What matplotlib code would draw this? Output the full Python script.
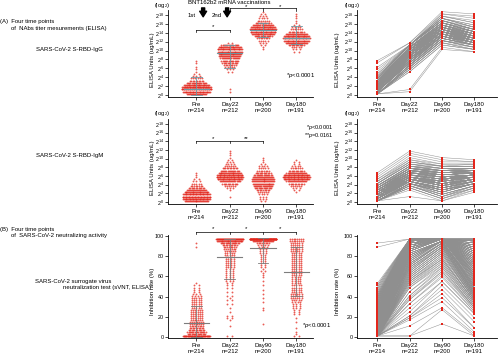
import numpy as np
import matplotlib
matplotlib.use('Agg')
import matplotlib.pyplot as plt

W, H = 500, 354

groups = ['Pre', 'Day22', 'Day90', 'Day180']
group_n = [214, 212, 200, 191]

# histogram counts (log2 bins of 0.5, centres 0.25 ... 18.75)
log_bins = np.arange(0.25, 19, 0.5)
igg_pre = [20, 35, 45, 40, 30, 18, 10, 6, 3, 2, 1, 1, 1, 0, 1, 1] + [0] * 22
igg_d22 = [0, 1, 1, 0, 0, 0, 0, 0, 0, 0, 2, 3, 5, 8, 12, 15, 18, 22, 25, 28, 30, 25, 15, 2] + [0] * 14
igg_d90 = [0] * 20 + [1, 1, 2, 3, 5, 8, 15, 25, 31, 32, 28, 20, 12, 7, 4, 3, 2, 1]
igg_d180 = [0] * 19 + [2, 3, 5, 12, 22, 30, 35, 30, 22, 12, 7, 4, 2, 1, 1, 1, 1, 1, 0]
igg_center = [1.3, 9.5, 14.7, 12.9]
igg_lower = [0.0, 6.1, 13.0, 11.4]
igg_upper = [4.0, 11.2, 16.3, 15.6]

igm_pre = [25, 35, 38, 35, 28, 20, 12, 8, 5, 3, 2, 1, 1, 1] + [0] * 24
igm_d22 = [0, 0, 1, 0, 0, 1, 3, 6, 12, 20, 30, 35, 32, 25, 17, 11, 6, 4, 3, 2, 1, 1, 1, 1] + [0] * 14
igm_d90 = [2, 3, 3, 4, 6, 9, 14, 18, 22, 24, 24, 21, 16, 12, 8, 5, 4, 2, 1, 1, 1] + [0] * 17
igm_d180 = [0, 0, 0, 0, 1, 2, 3, 6, 11, 20, 32, 36, 32, 20, 12, 7, 4, 2, 2, 1] + [0] * 18

# inhibition rate bins of 2 % (centres 1 ... 97)
svnt_bins = np.arange(1, 99, 2)
svnt_pre = [50, 15, 16, 12, 10, 9, 8, 8, 7, 6, 6, 6, 6, 6, 5, 5, 5, 5, 5, 5, 4, 3, 2, 2, 2, 2, 1] + [0] * 17 + [1, 0, 1, 0, 0]
svnt_d22 = [2, 0, 0, 0, 0, 1, 0, 0, 1, 2, 2, 0, 1, 0, 1, 0, 2, 0, 2, 1, 2, 0, 2, 0, 2, 2, 2,
            3, 3, 3, 3, 3, 3, 3, 4, 4, 4, 4, 4, 4, 5, 5, 6, 7, 8, 10, 16, 30, 55]
svnt_d90 = [0, 0, 0, 0, 0, 0, 1, 0, 0, 0, 0, 0, 0, 1, 1, 0, 0, 1, 0, 1, 0, 1, 0, 1, 0, 1, 0,
            1, 0, 1, 1, 1, 2, 1, 2, 2, 2, 2, 2, 2, 2, 3, 3, 3, 4, 5, 8, 20, 125]
svnt_d180 = [2, 1, 1, 0, 1, 0, 0, 1, 0, 1, 0, 2, 2, 2, 3, 3, 3, 4, 5, 6, 6, 6, 5, 5, 5, 5, 4,
             4, 4, 4, 5, 5, 5, 5, 5, 5, 5, 5, 5, 5, 5, 5, 6, 6, 6, 6, 6, 8, 8]
svnt_center = [14, 79, 88.5, 64.5]
svnt_lower = [0, 57, 73.5, 40.5]
svnt_upper = [31, 97, 98, 89]

RED = '#e3261c'
GRAY = '#8f8f8f'

plt.rcParams['font.family'] = ['Liberation Sans', 'DejaVu Sans']
plt.rcParams['mathtext.fontset'] = 'custom'
plt.rcParams['mathtext.rm'] = 'Liberation Sans'
plt.rcParams['mathtext.it'] = 'Liberation Sans:italic'
FS = 4.3
TFS = 3.9

fig = plt.figure(figsize=(W / 100, H / 100), dpi=100)


def add_ax(left, top, right, bottom):
    return fig.add_axes([left / W, 1 - bottom / H, (right - left) / W, (bottom - top) / H])


def fig_text(x, y, s, size=FS, **kw):
    fig.text(x / W, 1 - y / H, s, fontsize=size, va='center', **kw)


def style_ax(ax, log, xlim, ylabel, label_x, label_y):
    ax.set_xlim(*xlim)
    for side in ['top', 'right']:
        ax.spines[side].set_visible(False)
    for side in ['left', 'bottom']:
        ax.spines[side].set_linewidth(0.6)
    ax.set_xticks(range(4))
    ax.set_xticklabels([f'{g}\nn={n}' for g, n in zip(groups, group_n)], fontsize=FS, linespacing=1.25)
    if log:
        ax.set_ylim(-0.4, 19.2)
        ax.set_yticks(range(0, 19, 2))
        ax.set_yticklabels([f'$2^{{{k}}}$' for k in range(0, 19, 2)], fontsize=TFS)
    else:
        ax.set_ylim(-1, 101)
        ax.set_yticks(range(0, 101, 20))
        ax.set_yticklabels([str(k) for k in range(0, 101, 20)], fontsize=TFS)
    ax.tick_params(axis='y', length=2, width=0.5, pad=1)
    ax.tick_params(axis='x', length=2, width=0.5, pad=1.5)
    ax.set_ylabel(ylabel, fontsize=FS)
    ax.yaxis.set_label_coords(label_x, label_y)


def swarm(ax, bins, counts_list, dx, wmax):
    for pos, counts in enumerate(counts_list):
        xs, ys = [], []
        for b, c in zip(bins, counts):
            if c == 0:
                continue
            half = min(wmax, dx * np.sqrt(c - 1))
            xs.extend(pos + np.linspace(-half, half, c))
            ys.extend([b] * c)
        ax.scatter(xs, ys, s=1.8, color=RED, linewidths=0, alpha=0.75, zorder=2, clip_on=False)


def summary(ax, center, lower, upper, color):
    for pos in range(4):
        ax.plot([pos - 0.38, pos + 0.38], [center[pos]] * 2, color=color, lw=0.8, zorder=3)
        ax.plot([pos, pos], [lower[pos], upper[pos]], color=color, lw=0.6, zorder=3)
        for y in (lower[pos], upper[pos]):
            ax.plot([pos - 0.16, pos + 0.16], [y, y], color=color, lw=0.6, zorder=3)


def paired(ax, bins, counts_list):
    n_subj = max(sum(c) for c in counts_list)
    cols = []
    for counts in counts_list:
        vals = np.repeat(bins, counts)
        idx = np.round(np.linspace(0, len(vals) - 1, n_subj)).astype(int)
        cols.append(vals[idx])
    data = np.array(cols)
    ax.plot(range(4), data, color=GRAY, lw=0.35, zorder=1)
    for pos, counts in enumerate(counts_list):
        vals = np.repeat(bins, counts)
        ax.scatter([pos] * len(vals), vals, s=1.6, marker='s', color=RED, linewidths=0, zorder=2, clip_on=False)


def bracket(ax, x0, x1, y, drop, ticks, stars, star_y):
    ax.plot([x0, x1], [y, y], color='k', lw=0.5, clip_on=False)
    for t in ticks:
        ax.plot([t, t], [y, y - drop], color='k', lw=0.5, clip_on=False)
    for sx, s in stars:
        ax.text(sx, star_y, s, fontsize=FS, ha='center', va='center', clip_on=False)


LEFT_X = (-0.856, 3.5)
RIGHT_X = (-0.63, 3.7)
LEFT_LAB = -0.088
RIGHT_LAB = -0.118

# ---- row A: IgG
ax1 = add_ax(168, 9.7, 313, 96.8)
style_ax(ax1, True, LEFT_X, 'ELISA Units (ug/mL)', LEFT_LAB, 0.42)
swarm(ax1, log_bins, [igg_pre, igg_d22, igg_d90, igg_d180], 0.068, 0.45)
summary(ax1, igg_center, igg_lower, igg_upper, '#6d97a2')
bracket(ax1, 0, 1, 14.6, 0.5, [0, 1], [(0.5, '*')], 15.4)
bracket(ax1, 1, 3, 19.5, 0.6, [1, 2, 3], [(1.5, '*'), (2.5, '*')], 19.95)
ax1.text(3.58, 4.3, r'*$\it{p}$<0.0001', fontsize=FS, ha='right', va='center')
ax1.text(-0.27, 20.75, 'BNT162b2 mRNA vaccinations', fontsize=FS, ha='left', va='center', clip_on=False)
for ax_x, lab, lab_x in [(0.2, '1st', -0.14), (0.92, '2nd', 0.6)]:
    ax1.annotate('', xy=(ax_x, 17.6), xytext=(ax_x, 19.6), annotation_clip=False,
                 arrowprops=dict(arrowstyle='simple,head_length=0.4,head_width=0.5,tail_width=0.22',
                                 color='k', shrinkA=0, shrinkB=0))
    ax1.text(lab_x, 18.0, lab, fontsize=FS, ha='center', va='center')

ax2 = add_ax(357, 9.7, 497, 96.8)
style_ax(ax2, True, RIGHT_X, 'ELISA Units (ug/mL)', RIGHT_LAB, 0.42)
paired(ax2, log_bins, [igg_pre, igg_d22, igg_d90, igg_d180])

# ---- row A: IgM
ax3 = add_ax(168, 118.8, 313, 203.7)
style_ax(ax3, True, LEFT_X, 'ELISA Units (ug/mL)', LEFT_LAB, 0.42)
swarm(ax3, log_bins, [igm_pre, igm_d22, igm_d90, igm_d180], 0.068, 0.45)
bracket(ax3, 0, 2, 14.1, 0.5, [0, 1, 2], [(0.5, '*'), (1.5, '**')], 14.7)

ax4 = add_ax(357, 118.8, 497, 203.7)
style_ax(ax4, True, RIGHT_X, 'ELISA Units (ug/mL)', RIGHT_LAB, 0.42)
paired(ax4, log_bins, [igm_pre, igm_d22, igm_d90, igm_d180])

# ---- row B: sVNT
ax5 = add_ax(168, 235, 313, 338)
style_ax(ax5, False, LEFT_X, 'Inhibition rate (%)', LEFT_LAB, 0.45)
swarm(ax5, svnt_bins, [svnt_pre, svnt_d22, svnt_d90, svnt_d180], 0.07, 0.4)
summary(ax5, svnt_center, svnt_lower, svnt_upper, '#7d7d7d')
bracket(ax5, 0, 3, 104, 2.5, [0, 1, 2, 3], [(0.5, '*'), (1.5, '*'), (2.5, '*')], 107)

ax6 = add_ax(357, 235, 497, 338)
style_ax(ax6, False, RIGHT_X, 'Inhibition rate (%)', RIGHT_LAB, 0.45)
paired(ax6, svnt_bins, [svnt_pre, svnt_d22, svnt_d90, svnt_d180])

# ---- log2 captions and p-values placed in pixels
for x, y in [(162, 5), (352, 5), (162, 113), (352, 113)]:
    fig_text(x, y, '(log$_2$)', ha='center')
fig_text(333, 127, r'*$\it{p}$<0.0001', size=4.0, ha='right')
fig_text(333, 135.5, r'**$\it{p}$=0.0161', size=4.0, ha='right')
fig_text(331, 325, r'*$\it{p}$<0.0001', ha='right')

# ---- left-hand descriptions
fig_text(0, 22, '(A)  Four time points', ha='left')
fig_text(11, 28.5, 'of  NAbs titer mesurements (ELISA)', ha='left')
fig_text(36, 49, 'SARS-CoV-2 S-RBD-IgG', ha='left')
fig_text(36, 156, 'SARS-CoV-2 S-RBD-IgM', ha='left')
fig_text(0, 230, '(B)  Four time points', ha='left')
fig_text(11, 236, 'of  SARS-CoV-2 neutralizing activity', ha='left')
fig_text(35, 281.5, 'SARS-CoV-2 surrogate virus', ha='left')
fig_text(63, 287.5, 'neutralization test (sVNT, ELISA)', ha='left')

fig.savefig('out.png', dpi=100)
